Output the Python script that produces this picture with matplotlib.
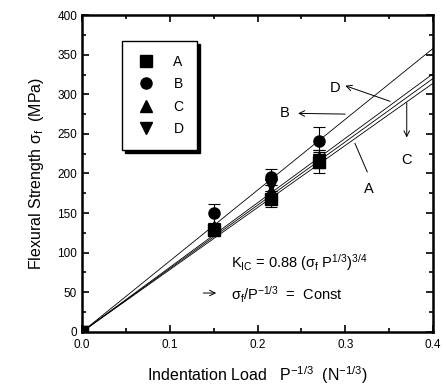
import numpy as np
import matplotlib
matplotlib.use('Agg')
import matplotlib.pyplot as plt
from matplotlib.ticker import MultipleLocator
from matplotlib.lines import Line2D

plt.rcParams['font.family'] = ['Liberation Sans', 'DejaVu Sans']
plt.rcParams['mathtext.fontset'] = 'custom'
plt.rcParams['mathtext.rm'] = 'Liberation Sans'
plt.rcParams['mathtext.it'] = 'Liberation Sans'

# data
labels = ['A', 'B', 'C', 'D']
markers = ['s', 'o', '^', 'v']
x_load = [0.0, 0.15, 0.215, 0.27]
y_A = [0, 128, 168, 215]
y_B = [0, 150, 196, 241]
y_C = [0, 132, 178, 220]
y_D = [0, 128, 186, 217]
err_A = [0, 5, 10, 15]
err_B = [0, 12, 10, 18]
err_C = [0, 6, 8, 10]
err_D = [0, 6, 8, 10]
slopes = [785, 895, 800, 815]   # fitted sigma_f / P^-1/3 lines
x_fit = [0.0, 0.4]

fig = plt.figure(figsize=(4.46, 3.89), dpi=100)
ax = fig.add_axes([0.184, 0.147, 0.787, 0.814])

handles = []
for lab, mk, y, e in zip(labels, markers, [y_A, y_B, y_C, y_D],
                         [err_A, err_B, err_C, err_D]):
    ax.errorbar(x_load, y, yerr=e, fmt=mk, color='black', ms=8,
                capsize=4, elinewidth=0.8, capthick=0.8)
    handles.append(Line2D([], [], marker=mk, color='black', ls='none',
                          ms=8, label=lab))

for k in slopes:
    ax.plot(x_fit, [k * v for v in x_fit], color='black', lw=0.6)

ax.set_xlim(0, 0.4)
ax.set_ylim(0, 400)
ax.xaxis.set_major_locator(MultipleLocator(0.1))
ax.xaxis.set_minor_locator(MultipleLocator(0.05))
ax.yaxis.set_major_locator(MultipleLocator(50))
ax.yaxis.set_minor_locator(MultipleLocator(25))
ax.set_xticks([0, 0.1, 0.2, 0.3, 0.4])
ax.set_xticklabels(['0.0', '0.1', '0.2', '0.3', '0.4'])
ax.tick_params(which='both', direction='in', top=True, right=True,
               labelsize=8.5, width=1.2)
ax.tick_params(which='major', length=5)
ax.tick_params(which='minor', length=3)
ax.tick_params(axis='x', pad=5)
for s in ax.spines.values():
    s.set_linewidth(1.8)

ax.set_xlabel(r'Indentation Load   P$^{-1/3}$  (N$^{-1/3}$)', fontsize=11.5,
              labelpad=10)
ax.set_ylabel(r'Flexural Strength $\sigma_f$  (MPa)', fontsize=11.5,
              labelpad=8)

leg = ax.legend(handles=handles, loc='upper left',
                bbox_to_anchor=(0.094, 0.94), frameon=True,
                fancybox=False, shadow={'color': 'black', 'alpha': 1},
                edgecolor='black', fontsize=10, handletextpad=1.3,
                borderpad=1.0, labelspacing=0.6, handlelength=1.4)
leg.get_frame().set_linewidth(1.0)

arr = dict(arrowstyle='->', color='black', lw=0.7)
ax.annotate('', xy=(0.297, 312), xytext=(0.354, 290), arrowprops=arr)
ax.text(0.288, 308, 'D', fontsize=10.5, ha='center', va='center')
ax.annotate('', xy=(0.243, 276), xytext=(0.303, 275), arrowprops=arr)
ax.text(0.231, 276, 'B', fontsize=10.5, ha='center', va='center')
ax.annotate('', xy=(0.370, 242), xytext=(0.370, 293), arrowprops=arr)
ax.text(0.370, 217, 'C', fontsize=10.5, ha='center', va='center')
ax.plot([0.311, 0.325], [238, 202], color='black', lw=0.7)
ax.text(0.327, 181, 'A', fontsize=10.5, ha='center', va='center')

ax.text(0.170, 87, r'K$_{\rm IC}$ = 0.88 ($\sigma_f$ P$^{1/3}$)$^{3/4}$',
        fontsize=10.5, va='center')
ax.annotate('', xy=(0.156, 49), xytext=(0.135, 49),
            arrowprops=dict(arrowstyle='->', color='black', lw=0.7))
ax.text(0.170, 47, r'$\sigma_f$/P$^{-1/3}$  =  Const', fontsize=10.5,
        va='center')

fig.savefig('out.png', dpi=100)
